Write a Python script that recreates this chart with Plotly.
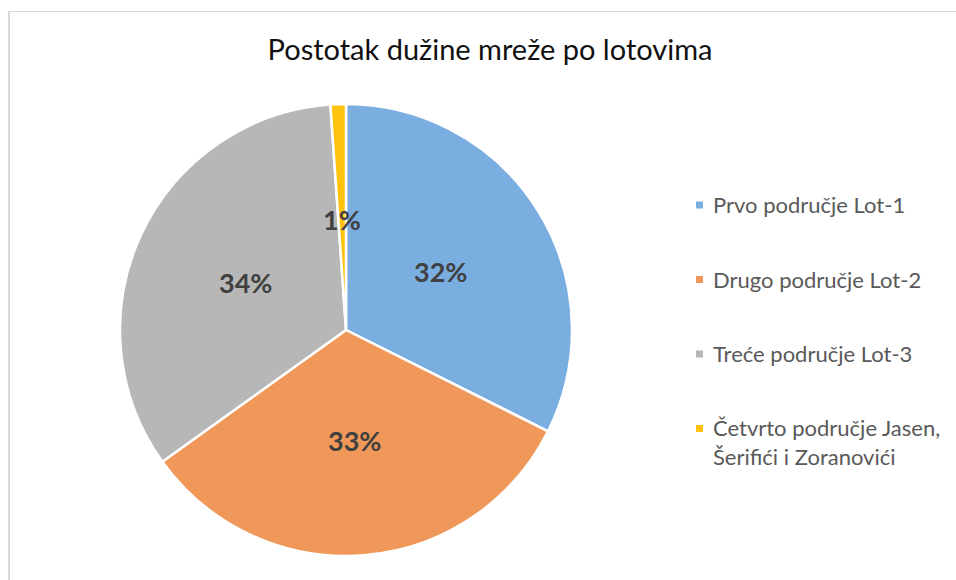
import math
import plotly.graph_objects as go

# Data
labels = [
    "Prvo područje Lot-1",
    "Drugo područje Lot-2",
    "Treće područje Lot-3",
    "Četvrto područje Jasen,<br>Šerifići i Zoranovići",
]
shares = [32.4, 32.7, 33.8, 1.1]
colors = ["#7aade0", "#f0985a", "#b7b7b7", "#ffc20e"]

W, H = 956, 580
# pie centre / radius in pixels
cx, cy, r = 346, 330, 226

dom_x = [(cx - r) / W, (cx + r) / W]
dom_y = [1 - (cy + r) / H, 1 - (cy - r) / H]

fig = go.Figure(
    go.Pie(
        labels=labels,
        values=shares,
        sort=False,
        direction="clockwise",
        rotation=0,
        marker=dict(colors=colors, line=dict(color="white", width=2.5)),
        textinfo="none",
        hole=0,
        domain=dict(x=dom_x, y=dom_y),
        showlegend=False,
    )
)

# Percent labels, placed at half radius along each slice's middle angle
total = sum(shares)
cum = 0
annotations = []
for v in shares:
    mid = (cum + v / 2) / total * 2 * math.pi
    cum += v
    px_ = cx + 0.49 * r * math.sin(mid)
    py_ = cy - 0.49 * r * math.cos(mid)
    annotations.append(dict(
        x=px_ / W, y=1 - py_ / H, xref="paper", yref="paper",
        text=f"<b>{round(v / total * 100)}%</b>", showarrow=False,
        font=dict(size=27, color="#404040", family="Lato"),
        xanchor="center", yanchor="middle",
    ))

# Custom legend: small square + label, evenly spaced
shapes = []
for i, (lab, col) in enumerate(zip(labels, colors)):
    yc = 205 + 74.5 * i
    shapes.append(dict(
        type="rect", xref="paper", yref="paper",
        x0=696 / W, x1=703 / W, y0=1 - (yc + 3.5) / H, y1=1 - (yc - 3.5) / H,
        fillcolor=col, line_width=0,
    ))
    annotations.append(dict(
        x=711 / W, y=1 - (yc - 16) / H, xref="paper", yref="paper",
        text=lab, showarrow=False, align="left",
        font=dict(size=22, color="#595959", family="Lato"),
        xanchor="left", yanchor="top",
    ))

# Chart frame (left and top edges)
shapes.append(dict(type="line", xref="paper", yref="paper",
                   x0=9 / W, x1=9 / W, y0=0, y1=1 - 11 / H,
                   line=dict(color="#d9d9d9", width=2)))
shapes.append(dict(type="line", xref="paper", yref="paper",
                   x0=9 / W, x1=1, y0=1 - 11.5 / H, y1=1 - 11.5 / H,
                   line=dict(color="#d9d9d9", width=1.2)))

fig.update_layout(
    width=W,
    height=H,
    title=dict(
        text="Postotak dužine mreže po lotovima",
        x=490 / W, y=1 - 50 / H, xanchor="center", yanchor="middle",
        font=dict(size=29, color="#111111", family="Lato"),
    ),
    margin=dict(l=0, r=0, t=0, b=0),
    paper_bgcolor="white",
    plot_bgcolor="white",
    annotations=annotations,
    shapes=shapes,
)

# drop the browser's default body margin so the figure sits at the page origin
fig.write_html(
    "out.html",
    config={"displayModeBar": False},
    post_script="document.body.style.margin='0';",
)
